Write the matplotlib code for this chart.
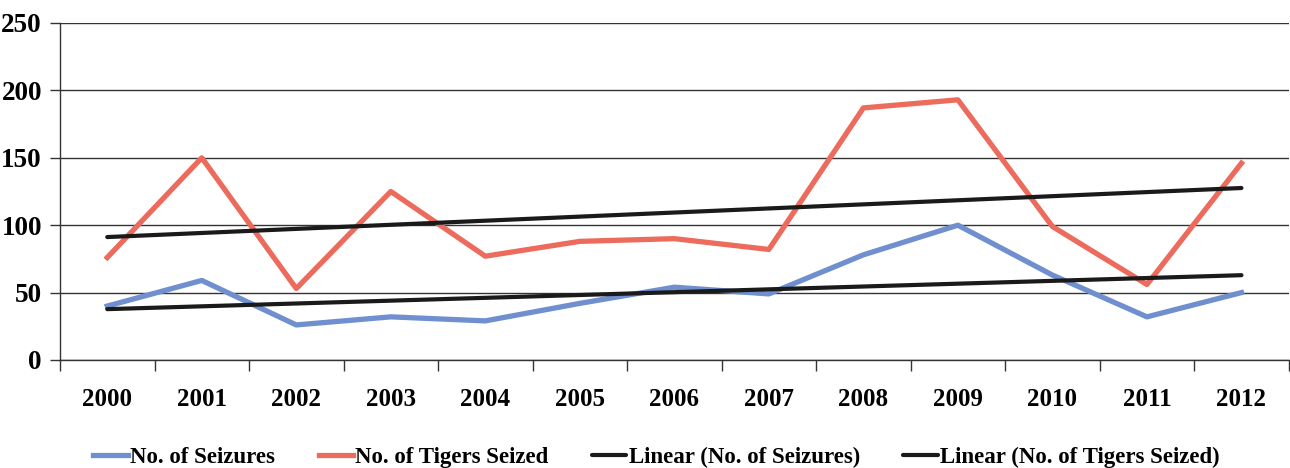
import numpy as np
import matplotlib.pyplot as plt

years = ['2000', '2001', '2002', '2003', '2004', '2005', '2006',
         '2007', '2008', '2009', '2010', '2011', '2012']
seizures = [40, 59, 26, 32, 29, 42, 54, 49, 78, 100, 63, 32, 50]
tigers = [76, 150, 53, 125, 77, 88, 90, 82, 187, 193, 99, 56, 146]

plt.rcParams['font.family'] = ['Liberation Serif', 'DejaVu Serif']
plt.rcParams['font.weight'] = 'bold'

fig = plt.figure(figsize=(12.9, 4.68), dpi=100)
ax = fig.add_axes([0.0465, 0.2308, 0.9525, 0.7201])

x = np.arange(len(years))
# linhas de tendencia (ajuste linear, como no Excel)
fit_s = np.polyval(np.polyfit(x, seizures, 1), x)
fit_t = np.polyval(np.polyfit(x, tigers, 1), x)

ax.plot(x, seizures, color='#6F8FCF', lw=3.8, label='No. of Seizures', zorder=3)
ax.plot(x, tigers, color='#EC6B5C', lw=3.8, label='No. of Tigers Seized', zorder=3)
ax.plot(x, fit_s, color='#1a1a1a', lw=3.0, solid_capstyle='round',
        label='Linear (No. of Seizures)', zorder=4)
ax.plot(x, fit_t, color='#1a1a1a', lw=3.0, solid_capstyle='round',
        label='Linear (No. of Tigers Seized)', zorder=4)

ax.set_xlim(-0.5, len(years) - 0.5)
ax.set_ylim(0, 250)
ax.set_yticks(range(0, 251, 50))
ax.yaxis.grid(True, color='#333333', lw=1.0)
ax.set_axisbelow(True)

ax.set_xticks(x)
ax.set_xticklabels(years, fontsize=18, fontweight='bold')
ax.set_xticks(np.arange(-0.5, len(years)), minor=True)
ax.tick_params(axis='x', which='major', length=0, pad=20)
ax.tick_params(axis='x', which='minor', length=8, width=1, color='#333333')
ax.tick_params(axis='y', length=7, width=1, color='#333333', labelsize=19.5, pad=6)
for lbl in ax.get_yticklabels():
    lbl.set_fontweight('bold')

for s in ['top', 'right']:
    ax.spines[s].set_visible(False)
for s in ['left', 'bottom']:
    ax.spines[s].set_color('#333333')
    ax.spines[s].set_linewidth(1.0)

fig.legend(loc='lower center', bbox_to_anchor=(0.509, -0.045), ncol=4,
           frameon=False, prop={'size': 16.5, 'weight': 'bold'},
           handlelength=1.5, handletextpad=0.1, columnspacing=1.9)

fig.savefig('out.png', dpi=100)
